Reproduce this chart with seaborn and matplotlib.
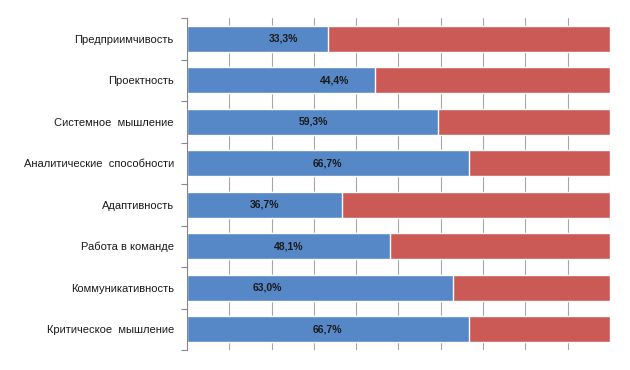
import numpy as np
import pandas as pd
import seaborn as sns
import matplotlib.pyplot as plt
from matplotlib.ticker import FixedLocator

# Data (share of respondents, %)
categories = ['Предприимчивость', 'Проектность', 'Системное  мышление',
              'Аналитические  способности', 'Адаптивность', 'Работа в команде',
              'Коммуникативность', 'Критическое  мышление']
values = [33.3, 44.4, 59.3, 66.7, 36.7, 48.1, 63.0, 66.7]
value_labels = ['33,3%', '44,4%', '59,3%', '66,7%', '36,7%', '48,1%', '63,0%', '66,7%']
total = [100] * len(categories)

# where the value labels sit along the bar (they are not centred in the original)
label_x = [22.9, 35.0, 29.8, 33.3, 18.4, 24.1, 18.9, 33.3]

df = pd.DataFrame({'category': categories, 'value': values, 'total': total})

sns.set_style('white')
plt.rcParams['font.family'] = ['Liberation Sans', 'DejaVu Sans']

fig = plt.figure(figsize=(6.3, 3.7), dpi=100)
ax = fig.add_axes([187 / 630, 20 / 370, 423 / 630, 332 / 370])

blue = '#5688C8'
red = '#CB5A57'

sns.barplot(data=df, x='total', y='category', orient='h', color=red,
            width=0.62, saturation=1, ax=ax)
sns.barplot(data=df, x='value', y='category', orient='h', color=blue,
            width=0.62, saturation=1, ax=ax)

for i, (lx, lab) in enumerate(zip(label_x, value_labels)):
    ax.text(lx, i, lab, ha='center', va='center', fontsize=7.5,
            fontweight='bold', color='#1a1a1a')

ax.set_xlim(0, 100)
ax.set_ylim(len(categories) - 0.5, -0.5)
ax.set_xticks(np.arange(0, 101, 10))
ax.set_xticklabels([])
ax.tick_params(axis='x', length=0)
ax.grid(axis='x', color='#a6a6a6', linewidth=0.8)
ax.set_axisbelow(True)

ax.yaxis.set_minor_locator(FixedLocator(np.arange(-0.5, len(categories), 1)))
ax.tick_params(axis='y', which='major', length=0, pad=9.5, labelsize=8, labelcolor='#1a1a1a')
ax.tick_params(axis='y', which='minor', length=4, color='#888888', width=0.8, left=True)

ax.set_xlabel('')
ax.set_ylabel('')
for side in ['top', 'right', 'bottom']:
    ax.spines[side].set_visible(False)
ax.spines['left'].set_color('#888888')
ax.spines['left'].set_linewidth(0.8)

fig.savefig('out.png', dpi=100)
